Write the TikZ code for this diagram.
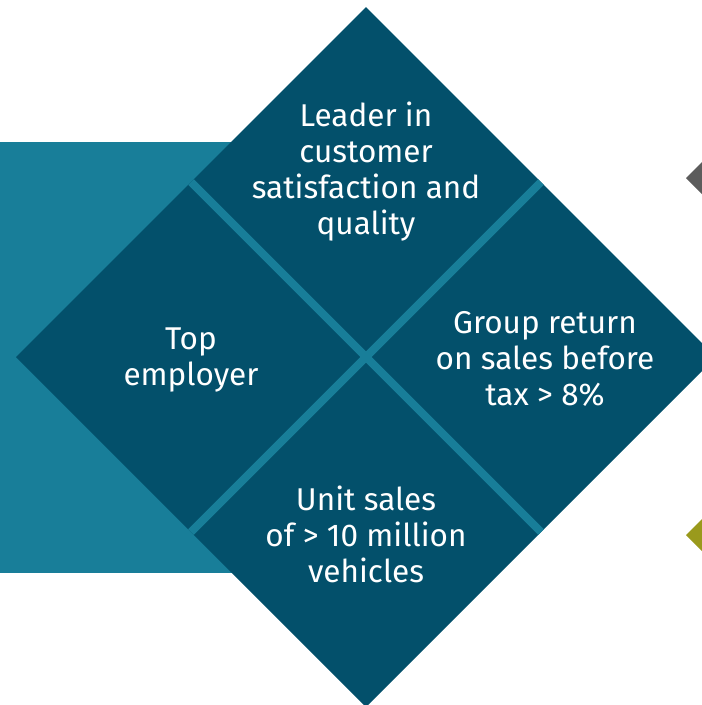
\documentclass[tikz,border=0pt]{standalone}
\usepackage{fontspec}
\setmainfont{Fira Sans}
\usepackage{xcolor}

\definecolor{vwdark}{HTML}{03506B}
\definecolor{vwlight}{HTML}{187E99}
\definecolor{vwgrey}{HTML}{5C5C5C}
\definecolor{vwolive}{HTML}{9A9A1C}

\begin{document}
\begin{tikzpicture}[x=1pt,y=-1pt,
    goaltext/.style={text=white, align=center, font=\fontsize{31.5}{36}\selectfont}]

        \useasboundingbox (0,0) rectangle (702,705);
        \clip (0,0) rectangle (702,705);

        % Draw the band behind the diamond
        \fill[vwlight] (0,142) rectangle (366,573);

        % Draw the big diamond
        \fill[vwdark] (366,7) -- (716,357) -- (366,707) -- (16,357) -- cycle;

        % Draw the gaps between the four fields
        \draw[vwlight, line width=8pt] (191,182) -- (541,532);
        \draw[vwlight, line width=8pt] (191,532) -- (541,182);

        % Draw the corners of the neighbouring diamonds
        \fill[vwgrey] (686,178) -- (720,144) -- (720,212) -- cycle;
        \fill[vwolive] (686,535) -- (720,501) -- (720,569) -- cycle;

        % Write the goals
        \node[goaltext] (quality) at (366,172) {Leader in\\customer\\satisfaction and\\quality};
        \node[goaltext] (employer) at (191,360) {Top\\employer};
        \node[goaltext] (return) at (545,359) {Group return\\on sales before\\tax > 8\%};
        \node[goaltext] (sales) at (366,534) {Unit sales\\of > 10 million\\vehicles};

\end{tikzpicture}
\end{document}
